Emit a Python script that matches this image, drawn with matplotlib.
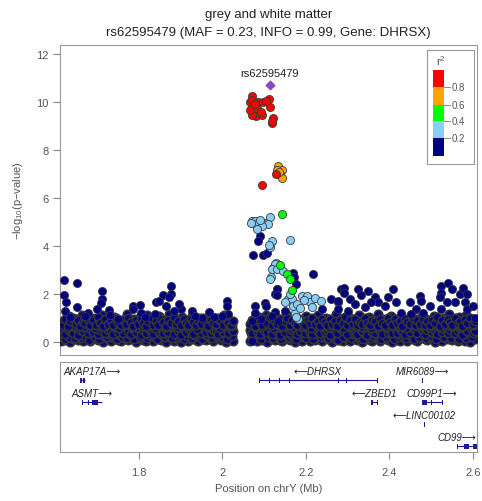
#Regional association plot (LocusZoom style) for rs62595479 on chrY
import numpy as np
import matplotlib
matplotlib.use("Agg")
import matplotlib.pyplot as plt
from matplotlib.patches import Rectangle

plt.rcParams['font.family'] = ['Liberation Sans', 'DejaVu Sans']
plt.rcParams['mathtext.default'] = 'regular'

#---- data (positions in Mb, values are -log10 p) ----
lead_name = "rs62595479"
lead_pos = 2.114
lead_logp = 10.69

#dense background of weak SNPs (r2 < 0.2)
band_x = [1.613, 1.619, 1.624, 1.631, 1.636, 1.642, 1.649, 1.654, 1.660, 1.667,
          1.672, 1.678, 1.684, 1.690, 1.697, 1.702, 1.708, 1.714, 1.720, 1.727,
          1.732, 1.738, 1.745, 1.750, 1.756, 1.763, 1.768, 1.774, 1.780, 1.787,
          1.792, 1.798, 1.805, 1.810, 1.816, 1.823, 1.828, 1.834, 1.841, 1.846,
          1.852, 1.858, 1.865, 1.870, 1.876, 1.883, 1.888, 1.894, 1.900, 1.907,
          1.912, 1.918, 1.925, 1.930, 1.936, 1.942, 1.949, 1.954, 1.960, 1.966,
          1.973, 1.978, 1.984, 1.990, 1.997, 2.002, 2.008, 2.014, 2.020, 2.025,
          2.066, 2.072, 2.077, 2.083, 2.090, 2.095, 2.101, 2.108, 2.113, 2.119,
          2.125, 2.131, 2.137, 2.144, 2.149, 2.155, 2.162, 2.167, 2.173, 2.179,
          2.186, 2.191, 2.197, 2.204, 2.209, 2.215, 2.221, 2.228, 2.233, 2.239,
          2.246, 2.251, 2.257, 2.263, 2.270, 2.275, 2.281, 2.288, 2.293, 2.299,
          2.305, 2.312, 2.317, 2.323, 2.330, 2.335, 2.341, 2.347, 2.354, 2.359,
          2.365, 2.372, 2.377, 2.383, 2.389, 2.396, 2.401, 2.407, 2.414, 2.419,
          2.425, 2.431, 2.438, 2.443, 2.449, 2.456, 2.461, 2.467, 2.473, 2.480,
          2.485, 2.491, 2.498, 2.503, 2.509, 2.515, 2.522, 2.527, 2.533, 2.540,
          2.545, 2.551, 2.557, 2.564, 2.569, 2.575, 2.582, 2.587, 2.593, 2.600,
          2.605]
band_lo = [0.04, 0.17, 0.09, 0.25, 0.02, 0.13, 0.21, 0.07, 0.16, 0.03,
           0.24, 0.11, 0.05, 0.19, 0.28, 0.08, 0.14, 0.01, 0.22, 0.12,
           0.06, 0.18, 0.26, 0.10, 0.03, 0.15, 0.23, 0.07, 0.20, 0.12,
           0.02, 0.16, 0.27, 0.09, 0.05, 0.21, 0.13, 0.04, 0.18, 0.25,
           0.08, 0.11, 0.02, 0.19, 0.24, 0.06, 0.15, 0.10, 0.01, 0.22,
           0.17, 0.05, 0.12, 0.26, 0.09, 0.03, 0.20, 0.14, 0.07, 0.23,
           0.11, 0.04, 0.18, 0.27, 0.08, 0.15, 0.02, 0.21, 0.10, 0.06,
           0.03, 0.19, 0.12, 0.05, 0.24, 0.09, 0.16, 0.02, 0.21, 0.13,
           0.07, 0.26, 0.10, 0.04, 0.18, 0.23, 0.08, 0.14, 0.01, 0.20,
           0.11, 0.06, 0.25, 0.15, 0.03, 0.19, 0.09, 0.22, 0.12, 0.05,
           0.17, 0.27, 0.08, 0.02, 0.14, 0.24, 0.10, 0.06, 0.20, 0.13,
           0.04, 0.18, 0.26, 0.07, 0.11, 0.01, 0.23, 0.15, 0.09, 0.03,
           0.21, 0.12, 0.05, 0.17, 0.25, 0.08, 0.14, 0.02, 0.19, 0.10,
           0.06, 0.24, 0.13, 0.04, 0.16, 0.22, 0.09, 0.03, 0.18, 0.27,
           0.11, 0.07, 0.20, 0.14, 0.02, 0.23, 0.10, 0.05, 0.17, 0.12,
           0.26, 0.08, 0.15, 0.04, 0.21, 0.13, 0.06, 0.19, 0.01, 0.24,
           0.11]
band_mid = [0.42, 0.55, 0.33, 0.61, 0.47, 0.38, 0.58, 0.31, 0.50, 0.44,
            0.63, 0.36, 0.53, 0.40, 0.57, 0.34, 0.49, 0.62, 0.39, 0.52,
            0.45, 0.32, 0.59, 0.41, 0.54, 0.37, 0.64, 0.46, 0.35, 0.56,
            0.43, 0.60, 0.30, 0.51, 0.39, 0.58, 0.48, 0.33, 0.62, 0.44,
            0.55, 0.37, 0.50, 0.41, 0.63, 0.35, 0.57, 0.46, 0.31, 0.53,
            0.40, 0.59, 0.45, 0.34, 0.61, 0.49, 0.38, 0.56, 0.42, 0.64,
            0.36, 0.52, 0.47, 0.32, 0.58, 0.43, 0.60, 0.39, 0.54, 0.48,
            0.51, 0.37, 0.62, 0.44, 0.33, 0.57, 0.48, 0.40, 0.60, 0.35,
            0.53, 0.45, 0.31, 0.58, 0.42, 0.64, 0.38, 0.50, 0.56, 0.34,
            0.47, 0.61, 0.39, 0.54, 0.43, 0.32, 0.59, 0.46, 0.36, 0.63,
            0.41, 0.52, 0.30, 0.57, 0.49, 0.37, 0.60, 0.44, 0.55, 0.33,
            0.62, 0.40, 0.48, 0.35, 0.58, 0.45, 0.53, 0.31, 0.61, 0.42,
            0.38, 0.56, 0.47, 0.34, 0.64, 0.43, 0.51, 0.39, 0.59, 0.36,
            0.54, 0.46, 0.32, 0.60, 0.41, 0.57, 0.49, 0.37, 0.63, 0.44,
            0.35, 0.52, 0.58, 0.40, 0.47, 0.33, 0.61, 0.43, 0.55, 0.38,
            0.50, 0.62, 0.36, 0.45, 0.57, 0.31, 0.53, 0.48, 0.64, 0.39,
            0.46]
band_hi = [0.82, 0.71, 0.95, 0.68, 0.88, 1.01, 0.75, 0.92, 0.66, 0.85,
           0.78, 0.98, 0.70, 0.90, 0.73, 1.03, 0.80, 0.67, 0.94, 0.76,
           0.87, 0.69, 0.99, 0.81, 0.72, 0.93, 0.77, 1.02, 0.84, 0.66,
           0.91, 0.74, 0.97, 0.79, 0.68, 0.89, 1.00, 0.73, 0.86, 0.70,
           0.96, 0.83, 0.67, 0.92, 0.78, 1.04, 0.75, 0.88, 0.69, 0.94,
           0.80, 0.72, 0.98, 0.85, 0.71, 0.90, 0.76, 1.01, 0.82, 0.68,
           0.93, 0.79, 0.74, 0.97, 0.87, 0.70, 0.95, 0.81, 0.73, 0.89,
           0.77, 0.92, 0.68, 0.99, 0.84, 0.72, 0.96, 0.79, 1.03, 0.70,
           0.88, 0.75, 0.94, 0.67, 0.86, 1.00, 0.73, 0.91, 0.80, 0.69,
           0.97, 0.83, 0.71, 0.93, 0.78, 1.02, 0.74, 0.89, 0.66, 0.95,
           0.82, 0.70, 0.98, 0.76, 0.87, 0.68, 0.93, 0.81, 1.04, 0.72,
           0.90, 0.77, 0.96, 0.69, 0.85, 0.74, 0.99, 0.80, 0.71, 0.92,
           0.86, 0.67, 0.97, 0.79, 0.73, 1.01, 0.84, 0.70, 0.94, 0.78,
           0.88, 0.66, 0.95, 0.82, 0.75, 1.00, 0.71, 0.90, 0.77, 0.98,
           0.69, 0.87, 0.73, 0.93, 0.80, 1.03, 0.68, 0.91, 0.76, 0.96,
           0.84, 0.72, 0.99, 0.79, 0.89, 0.67, 0.94, 0.81, 1.02, 0.74,
           0.86]

#second, interleaved set of weak SNPs in the band
band_x2 = [1.616, 1.622, 1.628, 1.633, 1.639, 1.646, 1.651, 1.657, 1.664, 1.669,
           1.675, 1.681, 1.687, 1.694, 1.699, 1.705, 1.711, 1.717, 1.724, 1.729,
           1.735, 1.741, 1.748, 1.753, 1.759, 1.766, 1.771, 1.777, 1.784, 1.789,
           1.795, 1.802, 1.807, 1.813, 1.820, 1.825, 1.831, 1.838, 1.843, 1.849,
           1.855, 1.862, 1.867, 1.873, 1.880, 1.885, 1.891, 1.897, 1.904, 1.909,
           1.915, 1.922, 1.927, 1.933, 1.939, 1.946, 1.951, 1.957, 1.963, 1.970,
           1.975, 1.981, 1.987, 1.994, 1.999, 2.005, 2.011, 2.017, 2.023,
           2.069, 2.075, 2.080, 2.087, 2.092, 2.098, 2.105, 2.110, 2.116, 2.122,
           2.128, 2.134, 2.141, 2.146, 2.152, 2.159, 2.164, 2.170, 2.176, 2.183,
           2.188, 2.194, 2.201, 2.206, 2.212, 2.218, 2.225, 2.230, 2.236, 2.243,
           2.248, 2.254, 2.260, 2.267, 2.272, 2.278, 2.285, 2.290, 2.296, 2.302,
           2.309, 2.314, 2.320, 2.327, 2.332, 2.338, 2.344, 2.351, 2.356, 2.362,
           2.369, 2.374, 2.380, 2.386, 2.393, 2.398, 2.404, 2.411, 2.416, 2.422,
           2.428, 2.435, 2.440, 2.446, 2.453, 2.458, 2.464, 2.470, 2.477, 2.482,
           2.488, 2.495, 2.500, 2.506, 2.512, 2.519, 2.524, 2.530, 2.537, 2.542,
           2.548, 2.554, 2.561, 2.566, 2.572, 2.579, 2.584, 2.590, 2.597, 2.603]
band_lo2 = [0.28, 0.12, 0.36, 0.21, 0.44, 0.15, 0.31, 0.39, 0.18, 0.26,
            0.42, 0.10, 0.33, 0.23, 0.37, 0.14, 0.29, 0.45, 0.19, 0.34,
            0.25, 0.40, 0.11, 0.30, 0.22, 0.43, 0.16, 0.35, 0.27, 0.13,
            0.38, 0.20, 0.32, 0.44, 0.17, 0.28, 0.41, 0.24, 0.12, 0.36,
            0.30, 0.19, 0.43, 0.26, 0.15, 0.39, 0.33, 0.21, 0.45, 0.14,
            0.27, 0.37, 0.18, 0.31, 0.42, 0.23, 0.11, 0.35, 0.29, 0.40,
            0.16, 0.34, 0.25, 0.44, 0.20, 0.38, 0.13, 0.32, 0.24,
            0.36, 0.17, 0.41, 0.27, 0.13, 0.33, 0.44, 0.22, 0.30, 0.15,
            0.39, 0.25, 0.11, 0.35, 0.43, 0.19, 0.28, 0.37, 0.14, 0.32,
            0.42, 0.23, 0.18, 0.40, 0.29, 0.12, 0.34, 0.45, 0.21, 0.26,
            0.38, 0.16, 0.31, 0.43, 0.24, 0.10, 0.36, 0.20, 0.41, 0.28,
            0.15, 0.33, 0.44, 0.22, 0.37, 0.13, 0.30, 0.39, 0.18, 0.27,
            0.42, 0.25, 0.11, 0.35, 0.19, 0.40, 0.31, 0.14, 0.38, 0.23,
            0.29, 0.44, 0.17, 0.34, 0.26, 0.12, 0.41, 0.21, 0.36, 0.30,
            0.16, 0.43, 0.24, 0.33, 0.13, 0.39, 0.28, 0.20, 0.45, 0.32,
            0.18, 0.37, 0.26, 0.11, 0.42, 0.29, 0.15, 0.35, 0.22, 0.40]
band_hi2 = [0.74, 0.91, 0.60, 1.08, 0.83, 0.67, 0.97, 0.79, 1.14, 0.63,
            0.88, 0.71, 1.02, 0.58, 0.94, 0.76, 1.11, 0.65, 0.85, 0.99,
            0.69, 1.06, 0.81, 0.57, 0.92, 0.73, 1.17, 0.86, 0.62, 0.98,
            0.78, 1.04, 0.66, 0.89, 1.12, 0.72, 0.95, 0.59, 0.84, 1.09,
            0.70, 0.93, 0.64, 1.15, 0.80, 0.96, 0.61, 0.87, 1.05, 0.75,
            0.90, 0.68, 1.10, 0.82, 0.56, 1.01, 0.77, 0.94, 0.63, 1.07,
            0.85, 0.71, 0.99, 0.58, 0.89, 1.13, 0.74, 0.92, 0.66,
            0.81, 0.97, 0.62, 1.06, 0.86, 0.70, 1.12, 0.78, 0.93, 0.59,
            1.03, 0.84, 0.67, 0.95, 1.16, 0.73, 0.88, 0.61, 1.00, 0.79,
            0.91, 0.65, 1.09, 0.83, 0.57, 0.96, 0.75, 1.14, 0.69, 0.87,
            1.02, 0.63, 0.90, 0.77, 1.18, 0.72, 0.94, 0.60, 0.85, 1.07,
            0.68, 0.98, 0.80, 1.11, 0.64, 0.89, 0.76, 1.04, 0.58, 0.92,
            0.83, 1.15, 0.71, 0.97, 0.62, 0.88, 1.08, 0.74, 0.95, 0.66,
            1.01, 0.79, 0.59, 0.93, 1.13, 0.70, 0.86, 0.65, 1.05, 0.82,
            0.96, 0.61, 0.90, 1.10, 0.73, 0.84, 0.57, 0.99, 0.77, 1.17,
            0.68, 0.91, 0.80, 1.06, 0.63, 0.87, 1.12, 0.75, 0.94, 0.69]

#weak SNPs standing above the band (r2 < 0.2)
navy_x = [1.621, 1.651, 1.621, 1.625, 1.651, 1.623, 1.677, 1.712, 1.712, 1.710,
          1.699, 1.728, 1.730, 1.785, 1.802, 1.785, 1.804, 1.842, 1.858, 1.878,
          1.878, 1.872, 1.849, 1.902, 1.928, 1.896, 1.838, 1.866, 1.883, 1.750,
          1.635, 1.671, 1.814, 1.950, 1.934, 1.968, 1.980, 2.012, 2.012, 2.013,
          2.000, 2.078, 2.102, 2.105, 2.077, 2.071, 2.126, 2.132, 2.126, 2.150,
          2.217, 2.285, 2.277, 2.260, 2.238, 2.070, 2.093, 2.118, 2.134, 2.090,
          2.086, 2.074, 2.098, 2.106, 2.168, 2.172, 2.176, 2.131, 2.130, 2.292,
          2.292, 2.277, 2.324, 2.332, 2.349, 2.306, 2.365, 2.397, 2.408, 2.373,
          2.389, 2.417, 2.317, 2.449, 2.473, 2.475, 2.497, 2.465, 2.523, 2.541,
          2.549, 2.523, 2.521, 2.569, 2.577, 2.585, 2.581, 2.557, 2.537, 2.523,
          2.585, 2.277, 2.429, 2.453, 2.481, 2.605, 2.357, 2.341, 2.300, 2.600]
navy_y = [2.57, 2.48, 1.95, 1.65, 1.44, 1.30, 1.23, 2.13, 1.79, 1.62,
          1.37, 1.34, 1.12, 1.51, 1.54, 1.37, 1.23, 1.65, 1.95, 2.34,
          1.99, 1.86, 1.72, 1.37, 1.30, 1.58, 1.16, 1.51, 1.30, 0.98,
          1.05, 1.10, 1.05, 1.00, 1.09, 1.26, 1.05, 1.72, 1.51, 1.16,
          1.10, 1.51, 1.62, 1.51, 1.21, 0.88, 1.99, 2.20, 1.26, 1.30,
          2.82, 2.20, 1.65, 1.81, 1.37, 0.06, 0.95, 1.09, 0.88, 4.41,
          4.21, 3.61, 3.64, 3.70, 2.89, 2.70, 2.40, 2.20, 1.95, 2.27,
          2.06, 1.72, 2.20, 1.95, 2.13, 1.79, 1.86, 1.86, 2.20, 1.65,
          1.51, 1.65, 1.58, 1.65, 1.92, 1.72, 1.51, 1.37, 2.34, 2.45,
          2.20, 2.06, 1.86, 1.99, 2.27, 1.99, 1.65, 1.65, 1.65, 1.37,
          1.37, 1.37, 1.23, 1.16, 1.23, 1.02, 1.65, 1.44, 1.30, 1.50]

#0.2 <= r2 < 0.4
lblue_x = [2.070, 2.075, 2.078, 2.086, 2.098, 2.106, 2.114, 2.110, 2.096, 2.082,
           2.090, 2.068, 2.120, 2.115, 2.163, 2.112, 2.128, 2.122, 2.126, 2.118,
           2.116, 2.114, 2.132, 2.145, 2.158, 2.166, 2.190, 2.202, 2.210, 2.214,
           2.174, 2.182, 2.170, 2.150, 2.162, 2.178, 2.195, 2.186, 2.176, 2.222,
           2.236]
lblue_y = [5.04, 4.97, 5.04, 4.97, 4.97, 4.97, 5.22, 4.90, 4.84, 4.69,
           5.10, 4.95, 4.21, 3.97, 4.25, 4.05, 3.31, 3.10, 3.24, 3.03,
           2.69, 2.62, 3.05, 2.95, 1.79, 1.79, 1.92, 1.92, 1.65, 1.44,
           1.23, 0.95, 1.51, 1.65, 2.00, 1.60, 1.75, 1.40, 1.05, 1.85,
           1.70]

#0.4 <= r2 < 0.6
green_x = [2.143, 2.138, 2.155, 2.162, 2.166]
green_y = [5.32, 3.20, 2.82, 2.64, 2.16]

#0.6 <= r2 < 0.8
orange_x = [2.134, 2.142, 2.138, 2.130, 2.144, 2.136]
orange_y = [7.32, 7.18, 6.98, 7.18, 6.85, 7.10]

#r2 >= 0.8
red_x = [2.070, 2.066, 2.072, 2.086, 2.098, 2.112, 2.114, 2.070, 2.074, 2.080,
         2.094, 2.072, 2.082, 2.122, 2.118, 2.120, 2.066, 2.092, 2.078, 2.104,
         2.128, 2.094]
red_y = [10.23, 10.02, 10.10, 10.02, 10.02, 10.12, 9.81, 9.81, 9.60, 9.40,
         9.47, 9.47, 9.74, 9.33, 9.12, 9.22, 9.67, 9.60, 9.90, 10.05,
         6.98, 6.56]

#genes: name, start, end, strand, row, exons
gene_names = ["AKAP17A", "DHRSX", "MIR6089", "ASMT", "ZBED1", "CD99P1", "LINC00102", "CD99"]
gene_start = [1.659, 2.087, 2.478, 1.663, 2.356, 2.478, 2.483, 2.562]
gene_end = [1.671, 2.370, 2.4785, 1.711, 2.370, 2.526, 2.4835, 2.612]
gene_strand = ["+", "-", "+", "+", "-", "+", "-", "+"]
gene_row = [0, 0, 0, 1, 1, 1, 2, 3]
gene_exons = [
    [(1.659, 1.664), (1.666, 1.671)],
    [(2.087, 2.0875), (2.111, 2.1115), (2.135, 2.1355), (2.159, 2.1595),
     (2.277, 2.2775), (2.296, 2.2965), (2.3695, 2.370)],
    [(2.478, 2.4785)],
    [(1.663, 1.6635), (1.679, 1.680), (1.687, 1.703), (1.7105, 1.711)],
    [(2.356, 2.360), (2.3695, 2.370)],
    [(2.478, 2.490), (2.500, 2.502), (2.5255, 2.526)],
    [(2.483, 2.4835)],
    [(2.562, 2.5625), (2.579, 2.590), (2.600, 2.612)],
]

xlim = (1.611, 2.610)
xticks = [1.8, 2.0, 2.2, 2.4, 2.6]
xtick_labels = ["1.8", "2", "2.2", "2.4", "2.6"]
yticks = [0, 2, 4, 6, 8, 10, 12]

legend_colors = ["#000080", "#87CEFA", "#00FF00", "#FFA500", "#FF0000"]
legend_breaks = ["0.2", "0.4", "0.6", "0.8"]

#---- figure ----
W, H = 482, 502
fig = plt.figure(figsize=(W / 100, H / 100), dpi=100)

def px_axes(l, t, r, b):
    return fig.add_axes([l / W, 1 - b / H, (r - l) / W, (b - t) / H])

ax = px_axes(60, 46, 477, 356)
gax = px_axes(60, 363, 477, 453)

edge = "#3a3a3a"
grey = "#555555"
pt = dict(s=34, edgecolors=edge, linewidths=0.6, zorder=3)

#band points get a heavier outline so the overlap reads grey
bx = np.array(band_x)
bx2 = np.array(band_x2)
ax.scatter(np.concatenate([bx, bx2, bx, bx2, bx]),
           np.concatenate([band_lo, band_lo2, band_mid, band_hi2, band_hi]),
           c=legend_colors[0], s=36, edgecolors="#353535", linewidths=1.25, zorder=3)
ax.scatter(navy_x, navy_y, c=legend_colors[0], **pt)
ax.scatter(lblue_x, lblue_y, c=legend_colors[1], **pt)
ax.scatter(green_x, green_y, c=legend_colors[2], **pt)
ax.scatter(orange_x, orange_y, c=legend_colors[3], **pt)
ax.scatter(red_x, red_y, c=legend_colors[4], **pt)
ax.scatter([lead_pos], [lead_logp], marker="D", s=22, c="#9146C8",
           edgecolors="#7a3aaa", linewidths=0.5, zorder=4)
ax.annotate(lead_name, (lead_pos, lead_logp), xytext=(0, 9), textcoords="offset points",
            ha="center", va="center", fontsize=8, color="#222222")

ax.set_xlim(*xlim)
ax.set_ylim(-0.54, 12.375)
ax.set_xticks([])
ax.set_yticks(yticks)
ax.set_yticklabels([str(v) for v in yticks])
ax.tick_params(axis="y", length=5, width=0.8, color="#888888", labelcolor=grey,
               labelsize=8, pad=3)
for s in ax.spines.values():
    s.set_color("#999999")
    s.set_linewidth(0.8)
ax.set_ylabel("\u2212log$_{10}$(p\u2212value)", fontsize=8, color=grey, labelpad=8)

fig.text(268.5 / W, 1 - 15 / H, "grey and white matter", ha="center", va="center",
         fontsize=9.5, color="#222222")
fig.text(268.5 / W, 1 - 33 / H,
         "rs62595479 (MAF = 0.23, INFO = 0.99, Gene: DHRSX)",
         ha="center", va="center", fontsize=9.5, color="#222222")

#legend box drawn in pixel units
lax = px_axes(427, 51, 474, 165)
lax.set_xlim(427, 474)
lax.set_ylim(165, 51)
lax.set_xticks([])
lax.set_yticks([])
for s in lax.spines.values():
    s.set_color("#999999")
    s.set_linewidth(0.8)
seg_top = [139, 122, 106, 88, 71]
seg_bot = [157, 139, 122, 106, 88]
for col, t, b in zip(legend_colors, seg_top, seg_bot):
    lax.add_patch(Rectangle((433, t), 11, b - t, facecolor=col, edgecolor="none"))
for lab, yb in zip(legend_breaks, [139, 122, 106, 88]):
    lax.plot([444, 450], [yb, yb], color="#888888", lw=0.7)
    lax.text(452, yb, lab, ha="left", va="center", fontsize=7, color=grey)
lax.text(441, 61, "r$^2$", ha="center", va="center", fontsize=8, color=grey)

#gene track
gene_color = "#1a1a9a"
row_body = [18, 40, 62, 84]
gax.set_xlim(*xlim)
gax.set_ylim(90, 0)
gax.set_yticks([])
gax.set_xticks(xticks)
gax.set_xticklabels(xtick_labels)
gax.tick_params(axis="x", length=5, width=0.8, color="#888888", labelcolor=grey,
                labelsize=8, pad=6)
for s in gax.spines.values():
    s.set_color("#999999")
    s.set_linewidth(0.8)
gax.set_xlabel("Position on chrY (Mb)", fontsize=8, color=grey, labelpad=4)

for name, st, en, strand, row, exons in zip(gene_names, gene_start, gene_end,
                                            gene_strand, gene_row, gene_exons):
    yb = row_body[row]
    gax.plot([st, en], [yb, yb], color=gene_color, lw=0.8, solid_capstyle="butt")
    for es, ee in exons:
        w = max(ee - es, 0.0022)
        gax.add_patch(Rectangle((es, yb - 2.5), w, 5, facecolor=gene_color,
                                edgecolor="none"))
    #long arrows come from DejaVu Sans through the family fallback
    label = name + "\u27f6" if strand == "+" else "\u27f5" + name
    cx = (st + en) / 2
    ha = "center"
    if cx - 0.06 < xlim[0]:
        cx, ha = xlim[0] + 0.008, "left"
    elif cx + 0.04 > xlim[1]:
        cx, ha = xlim[1] - 0.001, "right"
    gax.text(cx, yb - 8.5, label, ha=ha, va="center", fontsize=7, style="italic",
             color="#222222")

fig.savefig("out.png", dpi=100)
